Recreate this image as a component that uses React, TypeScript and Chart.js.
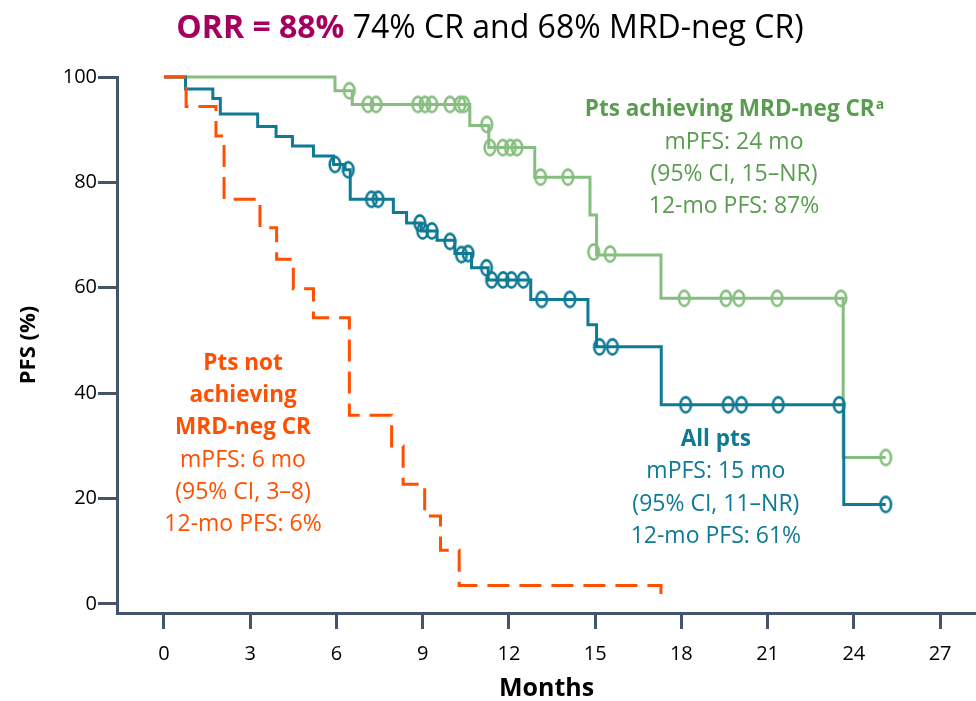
import React, { useEffect, useRef } from 'react';
import { Chart, registerables } from 'chart.js';

Chart.register(...registerables);

const FONT = '"Open Sans", "Liberation Sans", sans-serif';
const AXIS = '#44546A';
const TEAL = '#0E7A94';
const GREEN_LINE = '#86BE7F';
const GREEN_TEXT = '#5A9C50';
const ORANGE = '#FF4F00';
const MAGENTA = '#A5005E';

const xTicks = [0, 3, 6, 9, 12, 15, 18, 21, 24, 27];
const yTicks = [0, 20, 40, 60, 80, 100];

// Pts achieving MRD-neg CR
const mrdNegTimes = [0, 5.95, 6.55, 10.64, 11.3, 12.9, 14.82, 15.05, 17.29, 23.63, 25.11];
const mrdNegPFS = [100, 97.4, 94.8, 90.8, 86.6, 81.0, 73.8, 66.2, 58.0, 27.8, 27.8];
const mrdNegCensorTimes = [6.45, 7.1, 7.38, 8.83, 9.08, 9.32, 9.95, 10.3, 10.43, 11.23, 11.34, 11.79, 12.05, 12.28, 13.1, 14.05, 14.95, 15.52, 18.1, 19.55, 20.0, 21.33, 23.55, 25.11];
const mrdNegCensorPFS = [97.4, 94.8, 94.8, 94.8, 94.8, 94.8, 94.8, 94.8, 94.8, 91.0, 86.6, 86.6, 86.6, 86.6, 81.0, 81.0, 66.8, 66.4, 58.0, 58.0, 58.0, 58.0, 58.0, 27.8];

// All pts
const allTimes = [0, 0.75, 1.7, 1.96, 3.26, 3.9, 4.47, 5.2, 5.9, 6.3, 6.48, 7.98, 8.44, 8.95, 9.5, 10.12, 10.7, 11.28, 12.76, 14.75, 15.05, 17.3, 23.65, 25.11];
const allPFS = [100, 97.7, 95.9, 93.0, 90.6, 88.7, 86.9, 85.0, 83.4, 82.4, 76.8, 74.3, 72.3, 70.8, 69.0, 66.5, 63.8, 61.5, 57.8, 53.0, 48.8, 37.8, 18.9, 18.9];
const allCensorTimes = [5.95, 6.41, 7.22, 7.45, 8.9, 9.0, 9.32, 9.95, 10.35, 10.58, 11.22, 11.4, 11.8, 12.09, 12.5, 13.14, 14.12, 15.15, 15.6, 18.15, 19.63, 20.09, 21.37, 23.49, 25.11];
const allCensorPFS = [83.4, 82.4, 76.8, 76.8, 72.3, 70.8, 70.8, 68.8, 66.3, 66.5, 63.8, 61.5, 61.5, 61.5, 61.5, 57.8, 57.8, 48.8, 48.8, 37.8, 37.8, 37.8, 37.8, 37.8, 18.9];

// Pts not achieving MRD-neg CR
const notTimes = [0, 0.77, 1.81, 2.09, 3.34, 3.92, 4.5, 5.2, 6.45, 7.92, 8.32, 9.07, 9.62, 10.27, 17.29];
const notPFS = [100, 94.4, 88.8, 76.8, 71.4, 65.4, 59.8, 54.3, 35.8, 30.0, 22.7, 16.7, 10.2, 3.5, 0];

const titleBold = 'ORR = 88%';
const titleRest = ' 74% CR and 68% MRD-neg CR)';

const greenLines = ['mPFS: 24 mo', '(95% CI, 15–NR)', '12-mo PFS: 87%'];
const orangeBold = ['Pts not', 'achieving', 'MRD-neg CR'];
const orangeLines = ['mPFS: 6 mo', '(95% CI, 3–8)', '12-mo PFS: 6%'];
const tealLines = ['mPFS: 15 mo', '(95% CI, 11–NR)', '12-mo PFS: 61%'];

function ellipseMarker(color: string) {
  const c = document.createElement('canvas');
  c.width = 16;
  c.height = 20;
  const ctx = c.getContext('2d')!;
  ctx.strokeStyle = color;
  ctx.lineWidth = 2.6;
  ctx.beginPath();
  ctx.ellipse(8, 10, 5.3, 7.6, 0, 0, Math.PI * 2);
  ctx.stroke();
  return c;
}

const toXY = (xs: number[], ys: number[]) => xs.map((x, i) => ({ x, y: ys[i] }));

const textPlugin = {
  id: 'texts',
  afterDraw(chart: any) {
    const ctx = chart.ctx as CanvasRenderingContext2D;
    const xs = chart.scales.x;
    const ys = chart.scales.y;
    ctx.save();
    ctx.textBaseline = 'middle';

    // Title
    const tSize = 32;
    ctx.font = `bold ${tSize}px ${FONT}`;
    const w1 = ctx.measureText(titleBold).width;
    ctx.font = `${tSize}px ${FONT}`;
    const w2 = ctx.measureText(titleRest).width;
    const start = 490 - (w1 + w2) / 2;
    ctx.textAlign = 'left';
    ctx.font = `bold ${tSize}px ${FONT}`;
    ctx.fillStyle = MAGENTA;
    ctx.fillText(titleBold, start, 29);
    ctx.font = `${tSize}px ${FONT}`;
    ctx.fillStyle = '#000';
    ctx.fillText(titleRest, start + w1, 29);

    const block = (cxMonth: number, topPct: number, boldLines: string[], lines: string[], color: string, sup?: string) => {
      const cx = xs.getPixelForValue(cxMonth);
      let y = ys.getPixelForValue(topPct);
      const step = 32.3;
      const bsize = 22.5;
      ctx.fillStyle = color;
      boldLines.forEach((t, i) => {
        ctx.font = `bold ${bsize}px ${FONT}`;
        if (sup && i === boldLines.length - 1) {
          const wm = ctx.measureText(t).width;
          ctx.font = `bold 14px ${FONT}`;
          const ws = ctx.measureText(sup).width;
          const x0 = cx - (wm + ws) / 2;
          ctx.textAlign = 'left';
          ctx.font = `bold ${bsize}px ${FONT}`;
          ctx.fillText(t, x0, y);
          ctx.font = `bold 14px ${FONT}`;
          ctx.fillText(sup, x0 + wm + 1, y - 5);
        } else {
          ctx.textAlign = 'center';
          ctx.fillText(t, cx, y);
        }
        y += step;
      });
      ctx.font = `23px ${FONT}`;
      ctx.textAlign = 'center';
      lines.forEach((t) => {
        ctx.fillText(t, cx, y);
        y += step;
      });
    };

    block(19.83, 93.8, ['Pts achieving MRD-neg CR'], greenLines, GREEN_TEXT, 'a');
    block(2.75, 45.7, orangeBold, orangeLines, ORANGE);
    block(19.2, 31.2, ['All pts'], tealLines, TEAL);
    ctx.restore();
  },
};

export default function App() {
  const ref = useRef<HTMLCanvasElement>(null);
  useEffect(() => {
    if (!ref.current) return;
    const tealMark = ellipseMarker(TEAL);
    const greenMark = ellipseMarker(GREEN_LINE);
    const chart = new Chart(ref.current, {
      type: 'line',
      data: {
        datasets: [
          {
            label: 'Pts not achieving MRD-neg CR',
            data: toXY(notTimes, notPFS),
            stepped: 'before',
            borderColor: ORANGE,
            borderWidth: 3,
            borderDash: [22, 10],
            pointRadius: 0,
            fill: false,
            clip: false,
          } as any,
          {
            label: 'All pts',
            data: toXY(allTimes, allPFS),
            stepped: 'before',
            borderColor: TEAL,
            borderWidth: 3,
            pointRadius: 0,
            fill: false,
            clip: false,
          },
          {
            label: 'All pts censored',
            data: toXY(allCensorTimes, allCensorPFS),
            showLine: false,
            pointStyle: tealMark,
            pointRadius: 8,
            borderColor: TEAL,
            clip: false,
          } as any,
          {
            label: 'Pts achieving MRD-neg CR',
            data: toXY(mrdNegTimes, mrdNegPFS),
            stepped: 'before',
            borderColor: GREEN_LINE,
            borderWidth: 3,
            pointRadius: 0,
            fill: false,
            clip: false,
          },
          {
            label: 'MRD-neg censored',
            data: toXY(mrdNegCensorTimes, mrdNegCensorPFS),
            showLine: false,
            pointStyle: greenMark,
            pointRadius: 8,
            borderColor: GREEN_LINE,
            clip: false,
          } as any,
        ],
      },
      options: {
        animation: false,
        responsive: false,
        devicePixelRatio: 1,
        layout: { autoPadding: false, padding: { top: 77, left: 0, right: 0, bottom: 0 } },
        plugins: {
          legend: { display: false },
          tooltip: { enabled: false },
          title: { display: false },
        },
        scales: {
          x: {
            type: 'linear',
            min: -1.634,
            max: 28.25,
            afterBuildTicks: (s: any) => {
              s.ticks = xTicks.map((v) => ({ value: v }));
            },
            afterFit: (s: any) => {
              s.height = 88;
            },
            grid: { display: true, drawOnChartArea: false, drawTicks: true, tickLength: 16, color: AXIS, lineWidth: 3 },
            border: { display: true, color: AXIS, width: 3 },
            ticks: { color: '#000', font: { family: FONT, size: 20 }, padding: 13, maxRotation: 0, autoSkip: false },
            title: { display: true, text: 'Months', color: '#000', font: { family: FONT, size: 25, weight: 'bold', lineHeight: 1 }, padding: 0 },
          },
          y: {
            type: 'linear',
            min: -1.71,
            max: 100,
            afterBuildTicks: (s: any) => {
              s.ticks = yTicks.map((v) => ({ value: v }));
            },
            afterFit: (s: any) => {
              s.width = 117;
            },
            grid: { display: true, drawOnChartArea: false, drawTicks: true, tickLength: 19, color: AXIS, lineWidth: 3 },
            border: { display: true, color: AXIS, width: 3 },
            ticks: { color: '#000', font: { family: FONT, size: 20 }, padding: 1 },
            title: { display: true, text: 'PFS (%)', color: '#000', font: { family: FONT, size: 22, weight: 'bold' }, padding: { top: 16, bottom: 0 } },
          },
        },
      } as any,
      plugins: [textPlugin],
    });
    return () => chart.destroy();
  }, []);
  return (
    <div style={{ position: 'fixed', left: 0, top: 0, width: 976, height: 701, background: '#fff' }}>
      <canvas ref={ref} width={976} height={701} style={{ display: 'block' }} />
    </div>
  );
}
